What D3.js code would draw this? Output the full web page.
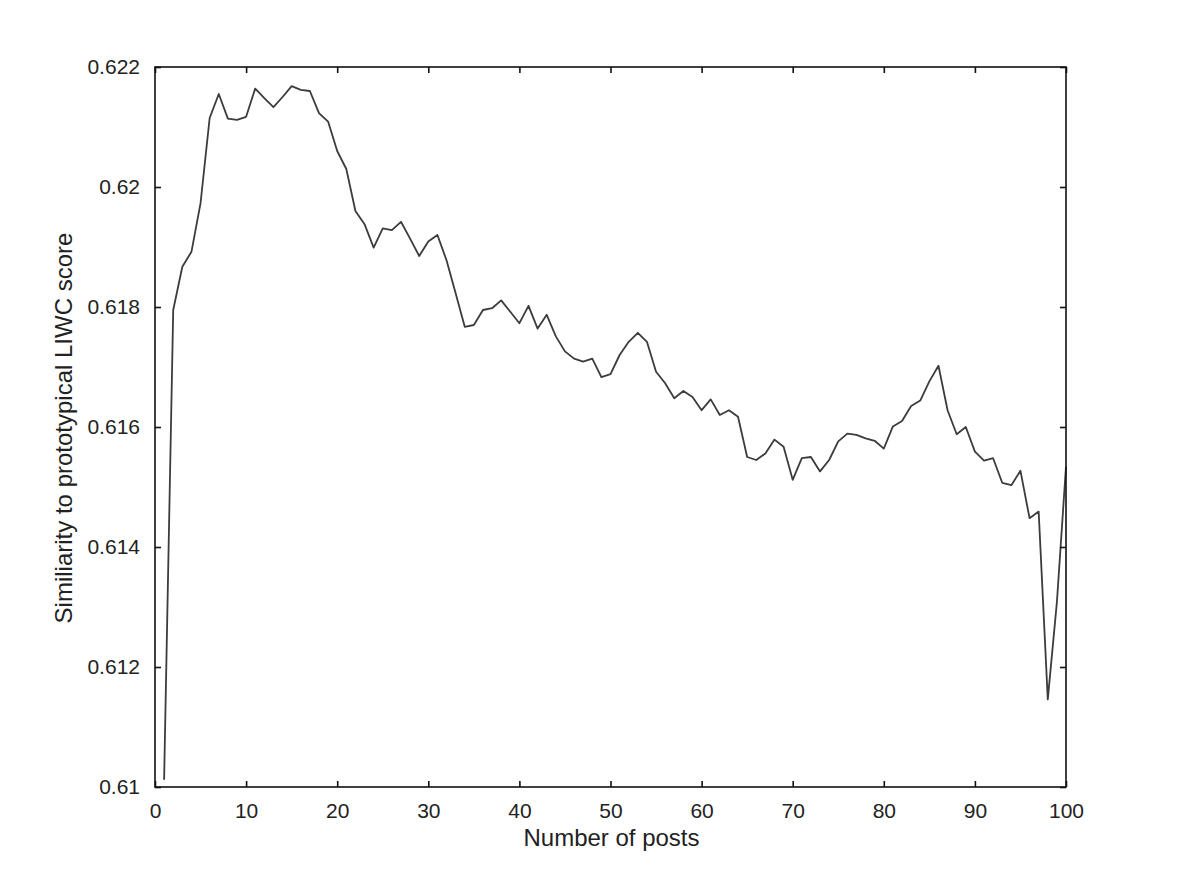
<!DOCTYPE html>
<html>
<head>
<meta charset="utf-8">
<script src="https://cdn.jsdelivr.net/npm/d3@7"></script>
<style>
  body { margin: 0; background: #fff; }
  text { font-family: "Liberation Sans", Arial, sans-serif; fill: #222; }
</style>
</head>
<body>
<svg id="chart" width="1181" height="886"></svg>
<script>
// posts 1..100 and the similarity
var posts = d3.range(1, 101);
var similarity = [
  0.61012, 0.61795, 0.61867, 0.61892, 0.61973, 0.62115, 0.62155, 0.62114, 0.62112, 0.62117,
  0.62164, 0.62148, 0.62133, 0.62150, 0.62168, 0.62162, 0.62160, 0.62123, 0.62109, 0.62060,
  0.62030, 0.61960, 0.61938, 0.61899, 0.61931, 0.61928, 0.61942, 0.61914, 0.61885, 0.61909,
  0.61920, 0.61878, 0.61823, 0.61767, 0.61770, 0.61795, 0.61798, 0.61811, 0.61792, 0.61773,
  0.61802, 0.61764, 0.61787, 0.61751, 0.61726, 0.61714, 0.61709, 0.61714, 0.61683, 0.61688,
  0.61720, 0.61742, 0.61757, 0.61742, 0.61692, 0.61673, 0.61648, 0.61660, 0.61650, 0.61628,
  0.61646, 0.61620, 0.61628, 0.61617, 0.61550, 0.61545, 0.61556, 0.61579, 0.61567, 0.61512,
  0.61548, 0.61550, 0.61526, 0.61545, 0.61576, 0.61589, 0.61587, 0.61581, 0.61577, 0.61564,
  0.61601, 0.61610, 0.61635, 0.61644, 0.61676, 0.61702, 0.61628, 0.61588, 0.61600, 0.61559,
  0.61544, 0.61548, 0.61507, 0.61503, 0.61527, 0.61448, 0.61459, 0.61146, 0.61308, 0.61534
];
var xTicks = [0, 10, 20, 30, 40, 50, 60, 70, 80, 90, 100];
var yTicks = [0.61, 0.612, 0.614, 0.616, 0.618, 0.62, 0.622];
var yTickLabels = ["0.61", "0.612", "0.614", "0.616", "0.618", "0.62", "0.622"];

var plotL = 155, plotR = 1066, plotT = 67, plotB = 787;

var svg = d3.select("#chart");

var x = d3.scaleLinear().domain([0, 100]).range([plotL, plotR]);
var y = d3.scaleLinear().domain([0.61, 0.622]).range([plotB, plotT]);

// data line
var line = d3.line()
  .x(function(d, i) { return x(posts[i]); })
  .y(function(d) { return y(d); });

svg.append("path")
  .datum(similarity)
  .attr("d", line)
  .attr("fill", "none")
  .attr("stroke", "#3c3c3c")
  .attr("stroke-width", 1.8)
  .attr("stroke-linejoin", "round");

// frame
svg.append("rect")
  .attr("x", plotL).attr("y", plotT)
  .attr("width", plotR - plotL).attr("height", plotB - plotT)
  .attr("fill", "none").attr("stroke", "#111").attr("stroke-width", 1.6);

// inward ticks on all four sides
var tk = 6;
var axB = svg.append("g").attr("transform", "translate(0," + plotB + ")")
  .call(d3.axisBottom(x).tickValues(xTicks).tickSize(-tk).tickPadding(16).tickFormat(d3.format("d")));
var axT = svg.append("g").attr("transform", "translate(0," + plotT + ")")
  .call(d3.axisTop(x).tickValues(xTicks).tickSize(-tk).tickFormat(""));
var axL = svg.append("g").attr("transform", "translate(" + plotL + ",0)")
  .call(d3.axisLeft(y).tickValues(yTicks).tickSize(-tk).tickPadding(15)
    .tickFormat(function(d, i) { return yTickLabels[i]; }));
var axR = svg.append("g").attr("transform", "translate(" + plotR + ",0)")
  .call(d3.axisRight(y).tickValues(yTicks).tickSize(-tk).tickFormat(""));

[axB, axT, axL, axR].forEach(function(a) {
  a.select(".domain").remove();
  a.attr("font-size", 21).attr("font-family", "'Liberation Sans', Arial, sans-serif");
  a.selectAll(".tick line").attr("stroke", "#111").attr("stroke-width", 1.6);
  a.selectAll("text").attr("fill", "#222");
});

// axis titles
svg.append("text")
  .attr("x", (plotL + plotR) / 2 + 1).attr("y", 846)
  .attr("text-anchor", "middle").attr("font-size", 24)
  .text("Number of posts");

svg.append("text")
  .attr("transform", "translate(72," + ((plotT + plotB) / 2 + 1) + ") rotate(-90)")
  .attr("text-anchor", "middle").attr("font-size", 24)
  .text("Similiarity to prototypical LIWC score");
</script>
</body>
</html>
